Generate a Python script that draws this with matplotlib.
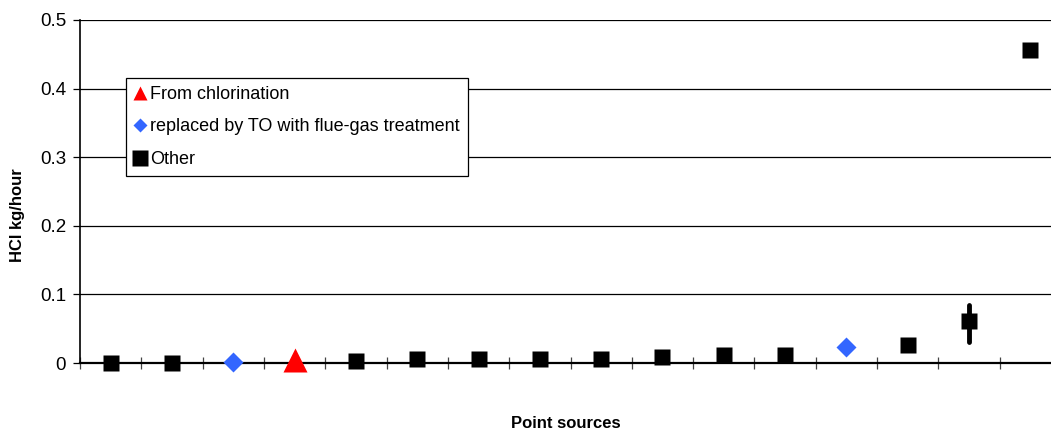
import numpy as np
import matplotlib.pyplot as plt
from matplotlib.lines import Line2D

plt.rcParams['font.family'] = ['Liberation Sans', 'DejaVu Sans']

# point sources, sorted by HCl emission (kg/hour)
cats = np.arange(1, 17)
kind = ["other", "other", "to", "chlor", "other", "other", "other", "other",
        "other", "other", "other", "other", "to", "other", "other", "other"]
hcl = [0.0, 0.0, 0.001, 0.004, 0.003, 0.006, 0.006, 0.006,
       0.006, 0.009, 0.012, 0.012, 0.024, 0.026, 0.061, 0.456]
err_lo = 0.031  # range shown for source 15
err_hi = 0.085
err_idx = 14

fig = plt.figure(figsize=(10.51, 4.32), dpi=100)
ax = fig.add_axes([80 / 1051, 69 / 432, 981 / 1051, 343 / 432])

for y in [0.1, 0.2, 0.3, 0.4, 0.5]:
    ax.axhline(y, color="black", lw=0.9, zorder=1)

ax.vlines(cats[err_idx], err_lo, err_hi, color="black", lw=3.5,
          capstyle="round", zorder=3)

styles = {
    "other": dict(marker="s", color="black", ms=11),
    "to": dict(marker="D", color="#3366ff", ms=10),
    "chlor": dict(marker="^", color="#ff0000", ms=17),
}
for x, y, k in zip(cats, hcl, kind):
    ax.plot(x, y, ls="none", mec="none", zorder=4, clip_on=False, **styles[k])

ax.set_xlim(0.5, 16.5)
ax.set_ylim(0, 0.5)
ax.set_xticks(np.arange(0.5, 16.6, 1))
ax.set_xticklabels([])
ax.set_yticks([0, 0.1, 0.2, 0.3, 0.4, 0.5])
ax.set_yticklabels(["0", "0.1", "0.2", "0.3", "0.4", "0.5"], fontsize=13.5)
ax.tick_params(axis="x", direction="inout", length=9, width=0.9, color="#444444")
ax.tick_params(axis="y", direction="out", length=5, width=0.9, pad=5)
for s in ["top", "right"]:
    ax.spines[s].set_visible(False)
ax.spines["left"].set_linewidth(1.2)
ax.spines["bottom"].set_linewidth(1.6)

fig.text(18 / 1051, 1 - 215 / 432, "HCl kg/hour", rotation=90, ha="center",
         va="center", fontsize=12, fontweight="bold")
fig.text(566 / 1051, 1 - 424 / 432, "Point sources", ha="center",
         va="center", fontsize=12, fontweight="bold")

handles = [
    Line2D([], [], ls="none", marker="^", color="#ff0000", mec="none", ms=10),
    Line2D([], [], ls="none", marker="D", color="#3366ff", mec="none", ms=7),
    Line2D([], [], ls="none", marker="s", color="black", mec="none", ms=12),
]
labels = ["From chlorination", "replaced by TO with flue-gas treatment", "Other"]
leg = fig.legend(handles, labels, loc="upper left",
                 bbox_to_anchor=(126 / 1051, 1 - 78 / 432),
                 borderaxespad=0, fancybox=False, framealpha=1,
                 edgecolor="black", fontsize=13, handlelength=0.6,
                 handletextpad=0.3, labelspacing=0.85, borderpad=0.45)
leg.get_frame().set_linewidth(0.9)

fig.savefig("out.png", dpi=100)
